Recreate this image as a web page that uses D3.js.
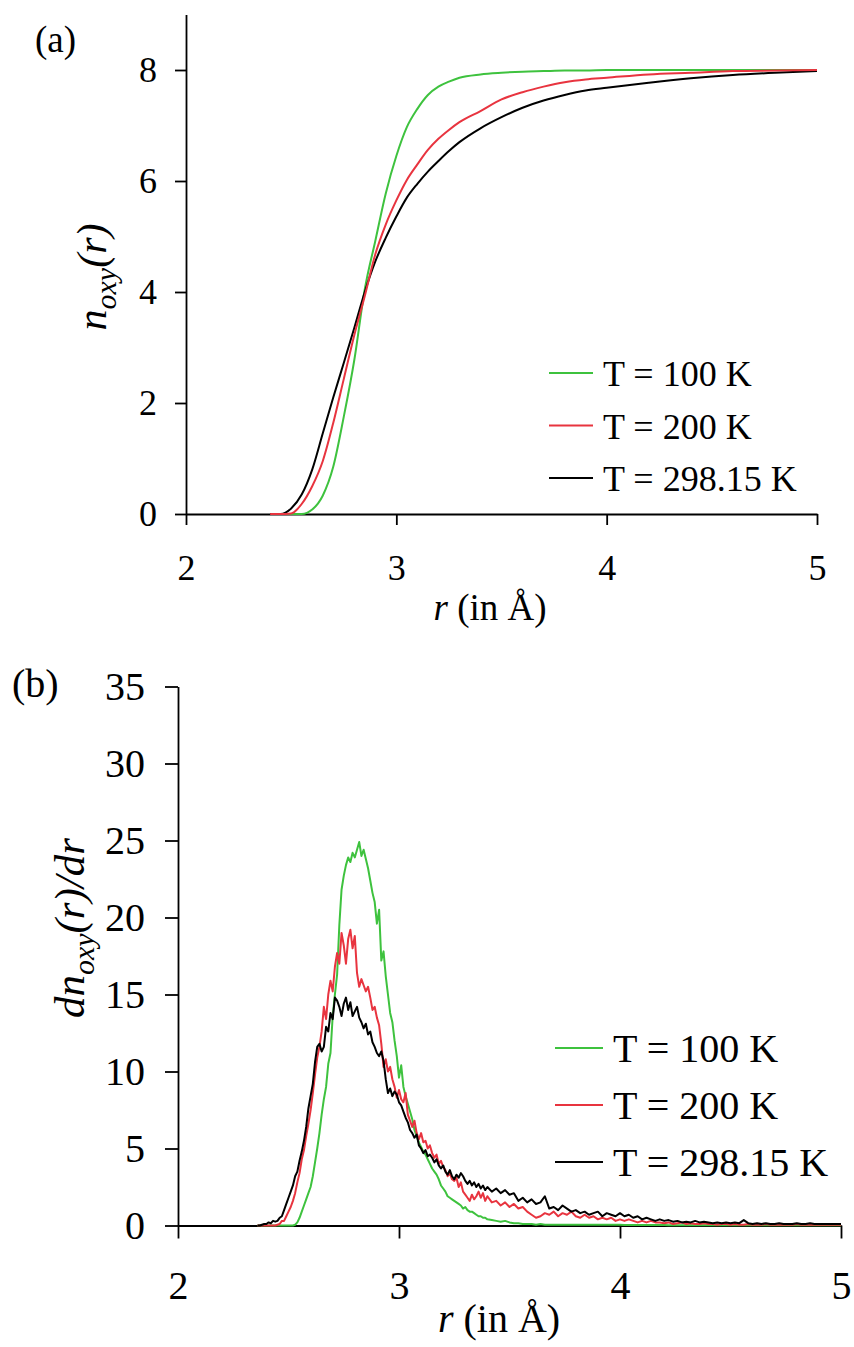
<!DOCTYPE html>
<html>
<head>
<meta charset="utf-8">
<script src="https://cdn.jsdelivr.net/npm/d3@7"></script>
<style>
  body { margin: 0; background: #fff; }
  svg text { font-family: "Liberation Serif", "Times New Roman", serif; fill: #000; }
</style>
</head>
<body>
<svg id="fig" width="854" height="1347"></svg>
<script>
// ---- data ----------------------------------------------------------------
const seriesNames = ["T = 100 K", "T = 200 K", "T = 298.15 K"];
const seriesColors = ["#3ec23e", "#e8343f", "#000000"];

// panel (a): running coordination number n_oxy(r)
const rCum = [2.40, 2.45, 2.50, 2.55, 2.60, 2.65, 2.70, 2.75, 2.80, 2.85,
              2.90, 2.95, 3.00, 3.05, 3.10, 3.15, 3.20, 3.25, 3.30, 3.40, 3.50,
              3.60, 3.70, 3.80, 3.90, 4.00, 4.20, 4.40, 4.60, 4.80, 5.00];
const nCum100 = [0, 0, 0, 0, 0.08, 0.33, 0.85, 1.75, 2.77, 4.05,
                 4.92, 5.78, 6.45, 6.97, 7.30, 7.55, 7.70, 7.79, 7.86, 7.92, 7.95,
                 7.97, 7.98, 7.99, 7.99, 8.00, 8.00, 8.00, 8.00, 8.00, 8.00];
const nCum200 = [0, 0, 0.01, 0.18, 0.50, 0.95, 1.64, 2.43, 3.22, 3.93,
                 4.68, 5.22, 5.65, 6.02, 6.30, 6.56, 6.76, 6.92, 7.06, 7.26, 7.47,
                 7.60, 7.70, 7.78, 7.83, 7.86, 7.92, 7.95, 7.98, 7.99, 8.00];
const nCum298 = [0, 0, 0.10, 0.35, 0.80, 1.45, 2.10, 2.72, 3.35, 4.00,
                 4.55, 4.98, 5.36, 5.70, 5.95, 6.17, 6.36, 6.54, 6.70, 6.95, 7.15,
                 7.32, 7.45, 7.55, 7.63, 7.68, 7.77, 7.85, 7.91, 7.95, 7.98];

// panel (b): dn_oxy(r)/dr, sampled every 0.01 Å up to 3.40 Å, then every 0.02 Å
const rDens = d3.range(236, 341).concat(d3.range(342, 501, 2)).map(k => k / 100);
const dens100 = [
  0, 0, 0, 0, 0, 0, 0, 0, 0, 0,
  0, 0, 0, 0, 0, 0, 0, 0.05, 0.2, 0.5,
  0.9, 1.3, 1.7, 2.1, 2.5, 3.2, 4.1, 5.0, 6.0, 7.2,
  8.2, 9.0, 10.5, 11.2, 13.6, 15.0, 16.3, 19.5, 21.8, 22.7,
  23.4, 23.9, 23.6, 24.2, 23.9, 24.4, 24.9, 24.0, 24.4, 23.8,
  23.2, 22.4, 21.6, 21.0, 19.6, 20.5, 17.2, 17.8, 16.2, 15.0,
  13.8, 13.2, 12.0, 11.0, 9.6, 10.4, 9.0, 8.4, 7.9, 7.4,
  6.9, 6.2, 5.8, 5.4, 5.1, 4.8, 4.6, 4.3, 4.0, 3.7,
  3.5, 3.3, 3.0, 2.6, 2.4, 2.2, 1.9, 1.8, 1.7, 1.6,
  1.5, 1.4, 1.3, 1.1, 1.2, 1.0, 0.9, 0.9, 0.8, 0.7,
  0.6, 0.6, 0.5, 0.5, 0.4,
  0.35, 0.3, 0.25, 0.3, 0.2, 0.15, 0.15, 0.1, 0.1, 0.1,
  0.05, 0.1, 0.05, 0.05, 0.05, 0.05, 0.05, 0.05, 0.05, 0.05,
  0.05, 0.05, 0.05, 0.05, 0.05, 0.05, 0.05, 0.05, 0.05, 0.05,
  0.03, 0.03, 0.03, 0.03, 0.03, 0.03, 0.03, 0.03, 0.03, 0.03,
  0.02, 0.02, 0.02, 0.02, 0.02, 0.02, 0.02, 0.02, 0.02, 0.02,
  0.02, 0.02, 0.02, 0.02, 0.02, 0.02, 0.02, 0.02, 0.02, 0.02,
  0.02, 0.02, 0.02, 0.02, 0.02, 0.02, 0.02, 0.02, 0.02, 0.02,
  0.02, 0.02, 0.02, 0.02, 0.02, 0.02, 0.02, 0.02, 0.02, 0.02
];
const dens200 = [
  0, 0, 0, 0, 0, 0, 0, 0, 0, 0.05,
  0.1, 0.3, 0.3, 0.6, 0.9, 1.2, 1.6, 2.1, 2.8, 3.4,
  4.3, 4.9, 5.8, 6.6, 7.5, 8.6, 9.8, 10.9, 11.6, 12.6,
  14.2, 13.4, 15.0, 15.9, 15.2, 16.8, 17.7, 17.0, 19.0, 18.2,
  17.0, 18.6, 19.2, 18.0, 18.8, 16.4, 15.5, 16.0, 15.6, 15.2,
  15.5, 14.8, 14.0, 14.2, 13.5, 13.0, 11.8, 10.3, 10.8, 10.0,
  10.3, 9.5, 9.0, 8.3, 8.8, 8.2, 8.0, 8.6, 7.2, 6.8,
  6.4, 6.8, 6.0, 5.6, 6.0, 5.4, 5.5, 5.0, 5.2, 4.7,
  4.4, 4.6, 4.0, 4.2, 3.8, 3.6, 3.2, 3.4, 3.0, 2.9,
  3.1, 2.5, 2.8, 2.2, 2.0, 1.8, 1.6, 2.0, 1.7, 1.9,
  2.2, 1.8, 2.1, 1.6, 1.9,
  1.5, 1.6, 1.3, 1.5, 1.2, 1.4, 1.1, 1.2, 0.9, 0.7,
  0.5, 0.6, 0.8, 0.7, 0.9, 0.6, 0.8, 0.7, 0.9, 0.6,
  0.5, 0.7, 0.5, 0.6, 0.4, 0.5, 0.4, 0.5, 0.3, 0.4,
  0.3, 0.4, 0.3, 0.2, 0.3, 0.2, 0.3, 0.2, 0.2, 0.15,
  0.2, 0.1, 0.15, 0.2, 0.1, 0.15, 0.1, 0.1, 0.15, 0.1,
  0.1, 0.05, 0.1, 0.1, 0.05, 0.1, 0.05, 0.05, 0.1, 0.05,
  0.05, 0.05, 0.1, 0.05, 0.05, 0.05, 0.05, 0.05, 0.05, 0.1,
  0.05, 0.05, 0.05, 0.05, 0.05, 0.05, 0.05, 0.05, 0.05, 0.05
];
const dens298 = [
  0, 0, 0.05, 0.1, 0.1, 0.2, 0.15, 0.3, 0.25, 0.3,
  0.5, 0.6, 1.0, 1.4, 1.8, 2.2, 2.6, 3.2, 3.5, 4.2,
  4.8, 5.5, 6.4, 7.6, 8.4, 9.2, 10.6, 11.6, 11.8, 11.3,
  11.6, 12.9, 12.6, 13.8, 13.4, 14.8, 14.6, 14.2, 13.6, 14.4,
  14.8, 14.0, 14.5, 13.6, 13.9, 14.2, 13.5, 13.2, 12.8, 13.1,
  12.4, 12.6, 11.9, 11.6, 11.2, 11.0, 11.3, 10.7, 9.5, 8.6,
  8.9, 8.4, 8.7, 8.5, 8.0, 7.8, 7.4, 7.0, 6.7, 6.2,
  6.0, 5.7, 5.9, 5.2, 5.0, 4.7, 4.9, 4.5, 4.6, 4.4,
  4.1, 4.3, 3.9, 3.7, 3.9, 3.5, 3.3, 3.6, 3.2, 3.0,
  3.3, 3.1, 3.4, 3.2, 2.9, 2.7, 2.9, 2.6, 2.8, 2.5,
  2.7, 2.4, 2.6, 2.3, 2.5,
  2.2, 2.4, 2.1, 2.3, 2.0, 2.1, 1.6, 1.8, 1.5, 1.7,
  1.4, 1.5, 1.9, 1.1, 1.2, 1.0, 1.3, 1.1, 0.9, 1.0,
  0.8, 0.9, 0.7, 0.8, 0.9, 0.6, 0.8, 0.7, 0.6, 0.8,
  0.6, 0.7, 0.5, 0.6, 0.4, 0.5, 0.4, 0.3, 0.4, 0.3,
  0.35, 0.25, 0.3, 0.2, 0.25, 0.2, 0.3, 0.2, 0.25, 0.2,
  0.15, 0.2, 0.15, 0.2, 0.15, 0.2, 0.15, 0.35, 0.15, 0.1,
  0.15, 0.1, 0.15, 0.1, 0.1, 0.15, 0.1, 0.1, 0.1, 0.15,
  0.1, 0.1, 0.15, 0.1, 0.1, 0.1, 0.1, 0.1, 0.1, 0.1
];

const xTicks = [2, 3, 4, 5];
const yTicksA = [0, 2, 4, 6, 8];
const yTicksB = [0, 5, 10, 15, 20, 25, 30, 35];

// ---- drawing -------------------------------------------------------------
const svg = d3.select("#fig");
const AX_W = 1.8;

function styleAxis(g, fontSize) {
  g.select(".domain").attr("stroke", "#000").attr("stroke-width", AX_W);
  g.selectAll(".tick line").attr("stroke", "#000").attr("stroke-width", AX_W);
  g.selectAll(".tick text").style("font-size", fontSize + "px").attr("fill", "#000");
}

function panel(opt) {
  const x = d3.scaleLinear().domain([2, 5]).range(opt.xRange);
  const y = d3.scaleLinear().domain(opt.yDomain).range(opt.yRange);

  const gx = svg.append("g")
    .attr("transform", `translate(0,${y(0)})`)
    .call(d3.axisBottom(x).tickValues(xTicks).tickFormat(d3.format("d"))
      .tickSize(opt.tick).tickSizeOuter(0).tickPadding(opt.xPad));
  styleAxis(gx, opt.font);

  const gy = svg.append("g")
    .attr("transform", `translate(${x(2)},0)`)
    .call(d3.axisLeft(y).tickValues(opt.yTicks).tickFormat(d3.format("d"))
      .tickSize(opt.tick).tickSizeOuter(0).tickPadding(opt.yPad));
  styleAxis(gy, opt.font);

  const line = d3.line()
    .x(d => x(d[0]))
    .y(d => y(d[1]))
    .curve(opt.curve);

  opt.order.forEach(i => {
    const vals = opt.values[i];
    svg.append("path")
      .datum(opt.r.map((r, k) => [r, vals[k]]))
      .attr("fill", "none")
      .attr("stroke", seriesColors[i])
      .attr("stroke-width", opt.lineW)
      .attr("stroke-linejoin", "round")
      .attr("d", line);
  });

  // legend
  seriesNames.forEach((name, i) => {
    const ly = opt.legY + i * opt.legStep;
    svg.append("line")
      .attr("x1", opt.legX).attr("x2", opt.legX + opt.legLen)
      .attr("y1", ly).attr("y2", ly)
      .attr("stroke", seriesColors[i]).attr("stroke-width", 2);
    svg.append("text")
      .attr("x", opt.legX + opt.legLen + 10)
      .attr("y", ly + opt.legBase)
      .style("font-size", opt.font + "px")
      .text(name);
  });

  // x-axis title: r (in Å)
  const xt = svg.append("text")
    .attr("x", opt.xTitle[0]).attr("y", opt.xTitle[1])
    .attr("text-anchor", "middle")
    .style("font-size", opt.titleFont + "px");
  xt.append("tspan").style("font-style", "italic").text("r");
  xt.append("tspan").text(" (in Å)");

  return { x, y };
}

// (a)
panel({
  xRange: [186, 817], yDomain: [0, 9], yRange: [514, 14.5],
  yTicks: yTicksA, tick: 11, xPad: 29, yPad: 18, font: 36,
  r: rCum, values: [nCum100, nCum200, nCum298], order: [0, 2, 1],
  curve: d3.curveMonotoneX, lineW: 2,
  legX: 549, legLen: 44, legY: 373, legStep: 52.5, legBase: 13,
  xTitle: [490, 620], titleFont: 37
});

// (b)
panel({
  xRange: [178, 841], yDomain: [0, 35], yRange: [1225.5, 686.5],
  yTicks: yTicksB, tick: 13, xPad: 32, yPad: 20, font: 40,
  r: rDens, values: [dens100, dens200, dens298], order: [0, 1, 2],
  curve: d3.curveLinear, lineW: 2,
  legX: 555, legLen: 48, legY: 1048, legStep: 57, legBase: 14,
  xTitle: [499, 1332], titleFont: 40
});

// panel letters
svg.append("text").attr("x", 35).attr("y", 52).style("font-size", "37px").text("(a)");
svg.append("text").attr("x", 12).attr("y", 697).style("font-size", "40px").text("(b)");

// y-axis titles
const ya = svg.append("text")
  .attr("transform", "translate(106,277) rotate(-90)")
  .attr("text-anchor", "middle")
  .style("font-size", "42px").style("font-style", "italic");
ya.append("tspan").text("n");
ya.append("tspan").attr("dy", 10).style("font-size", "30px").text("oxy");
ya.append("tspan").attr("dy", -10).text("(r)");

const yb = svg.append("text")
  .attr("transform", "translate(84,928) rotate(-90)")
  .attr("text-anchor", "middle")
  .style("font-size", "43px").style("font-style", "italic");
yb.append("tspan").text("dn");
yb.append("tspan").attr("dy", 10).style("font-size", "30px").text("oxy");
yb.append("tspan").attr("dy", -10).text("(r)/dr");
</script>
</body>
</html>
